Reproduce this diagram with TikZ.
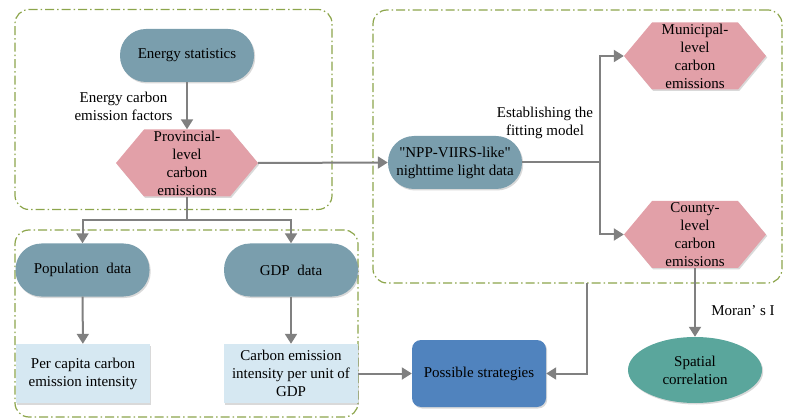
\documentclass[tikz,border=0pt]{standalone}
\usepackage{fontspec}
\setmainfont{Liberation Serif}
\usetikzlibrary{arrows.meta,shadows,calc,shapes.geometric}
\definecolor{pillc}{RGB}{122,158,173}
\definecolor{hexc}{RGB}{226,160,168}
\definecolor{lboxc}{RGB}{214,232,242}
\definecolor{stratc}{RGB}{80,131,190}
\definecolor{spatc}{RGB}{90,166,156}
\definecolor{grpc}{RGB}{140,165,75}
\definecolor{arrc}{RGB}{128,128,128}
\tikzset{
  softshadow/.style={drop shadow={shadow xshift=1.2pt,shadow yshift=-1.5pt,opacity=0.25,fill=black!60}},
  pillbox/.style={rectangle,rounded corners=26pt,fill=pillc,minimum width=134pt,minimum height=53pt,softshadow},
  lightbox/.style={rectangle,fill=lboxc,minimum width=134pt,minimum height=59pt,softshadow},
  hexfill/.style={fill=hexc,softshadow},
  hexbox/.style={rectangle,minimum width=142pt,minimum height=67pt},
  grpbox/.style={rectangle,draw=grpc,line width=1.2pt,rounded corners=14pt,dash pattern=on 9pt off 3pt on 1.5pt off 3pt},
  conn/.style={draw=arrc,line width=2pt,-{Triangle[width=12pt,length=10pt]}},
  plainline/.style={draw=arrc,line width=2pt},
  every node/.style={font=\fontsize{15}{18}\selectfont,align=center,inner sep=0pt}
}
\newcommand\hexnode[4]{%
  \path[hexfill] (#2-71,#3) -- (#2-43,#3-33.5) -- (#2+43,#3-33.5) -- (#2+71,#3) -- (#2+43,#3+33.5) -- (#2-43,#3+33.5) -- cycle;
  \node[hexbox,label={center:#4}] (#1) at (#2,#3) {};}
\begin{document}
\begin{tikzpicture}[x=1pt,y=-1pt]
\useasboundingbox (0,0) rectangle (786,419);
% groups
\node[grpbox,minimum width=317pt,minimum height=200pt] (g1) at (173.5,109.5) {};
\node[grpbox,minimum width=409pt,minimum height=273pt] (g2) at (577.5,146.5) {};
\node[grpbox,minimum width=343pt,minimum height=187pt] (g3) at (186.5,323.5) {};
% nodes
\node[pillbox] (energy) at (187,55.5) {Energy statistics};
\hexnode{prov}{187}{163}{Provincial-\\level\\carbon\\emissions}
\node[pillbox] (npp) at (455,162.5) {\textquotedbl NPP-VIIRS-like\textquotedbl\\nighttime light data};
\hexnode{muni}{695}{56}{Municipal-\\level\\carbon\\emissions}
\hexnode{county}{695}{234.5}{County-\\level\\carbon\\emissions}
\node[pillbox] (pop) at (82.5,270) {Population~~data};
\node[pillbox] (gdp) at (291,270) {GDP~~data};
\node[lightbox] (percap) at (83,373.5) {Per capita carbon\\emission intensity};
\node[lightbox] (cint) at (291,373.5) {Carbon emission\\intensity per unit of\\GDP};
\node[rectangle,rounded corners=9pt,fill=stratc,minimum width=134pt,minimum height=67pt,softshadow] (strat) at (479,373.5) {Possible strategies};
\node[ellipse,fill=spatc,minimum width=134pt,minimum height=66pt,softshadow] (spat) at (695,370) {Spatial\\correlation};
% labels
\node (lblfactors) at (123.5,106) {Energy carbon\\emission factors};
\node (lblfit) at (545,123) {Establishing the\\fitting model};
\node (lblmoran) at (743,311) {Moran’ s I};
% connectors
\coordinate (split) at (600,162.5);
\coordinate (psplit) at (187,220);
\coordinate (g2out) at (587,283);
\draw[conn] (energy) -- (prov);
\draw[conn] (prov.east) -- (npp.west);
\draw[plainline] (npp.east) -- (split);
\draw[conn] (split) |- (muni.west);
\draw[conn] (split) |- (county.west);
\draw[plainline] (prov.south) -- (psplit);
\draw[conn] (psplit) -| (pop.north);
\draw[conn] (psplit) -| (gdp.north);
\draw[conn] (pop) -- (percap);
\draw[conn] (gdp) -- (cint);
\draw[conn] (cint.east) -- (strat.west);
\draw[conn] (g2out) |- (strat.east);
\draw[conn] (county.south) -- (spat.north);
\end{tikzpicture}
\end{document}
